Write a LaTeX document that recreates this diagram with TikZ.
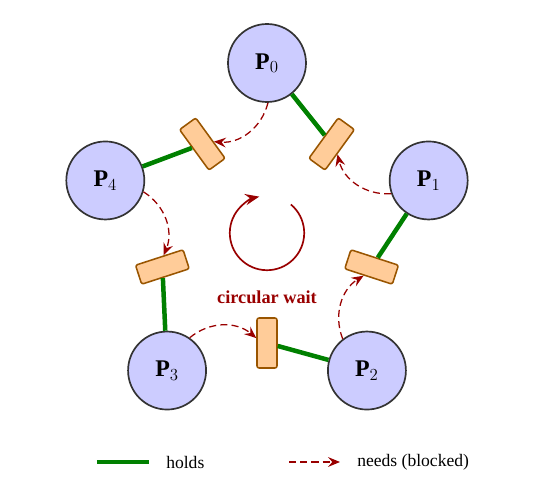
\documentclass[tikz,border=0pt]{standalone}
\usepackage{fontspec}
\setmainfont{Liberation Serif}
\usepackage{xcolor}
\definecolor{proc-fill}{HTML}{CCCCFF}
\definecolor{proc-line}{HTML}{333333}
\definecolor{res-fill}{HTML}{FFCC99}
\definecolor{res-line}{HTML}{995500}
\definecolor{hold-green}{HTML}{008000}
\definecolor{need-red}{HTML}{990000}
\usetikzlibrary{arrows.meta}

\begin{document}
\begin{tikzpicture}[
    process/.style={circle, draw=proc-line, fill=proc-fill, line width=1.2pt, minimum size=1.95cm, inner sep=0pt, font=\fontsize{17}{20}\selectfont},
    resource/.style={rectangle, rounded corners=1.5pt, draw=res-line, fill=res-fill, line width=1.1pt, minimum width=1.25cm, minimum height=0.5cm, inner sep=0pt},
    holds/.style={hold-green, line width=3.2pt},
    needs/.style={need-red, line width=0.9pt, dash pattern=on 5pt off 3pt, -{Stealth[length=8.5pt,width=7pt,inset=3pt]}},
]

    % Frame
    \useasboundingbox (-6.675, -6.5) rectangle (7.15, 5.825);

    % Processes
    \foreach \i in {0,...,4}
        \node[process] (p\i) at ({90-72*\i}:4.25) {\textbf{P}$_{\i}$};

    % Resources
    \foreach \i in {0,...,4}
        \node[resource, rotate={54-72*\i}] (r\i) at ({54-72*\i}:2.75) {};

    % Holds
    \foreach \i in {0,...,4}
        \draw[holds] (p\i) -- (r\i);

    % Needs
    \foreach \i/\j in {0/4, 1/0, 2/1, 3/2, 4/3}
        \draw[needs] (p\i) to[bend left=40] (r\j);

    % Circular wait
    \draw[need-red, line width=1.2pt, -{Stealth[length=10pt,width=8pt,inset=3.5pt]}] (50:0.93) arc (50:-258:0.93);
    \node[need-red, font=\fontsize{13}{15}\selectfont\bfseries] (wait) at (0, -1.6) {circular wait};

    % Legend
    \coordinate (hold-a) at (-4.25, -5.725);
    \coordinate (hold-b) at (-2.95, -5.725);
    \draw[holds] (hold-a) -- (hold-b);
    \node[anchor=west, font=\fontsize{12.5}{15}\selectfont, inner sep=0pt] (hold-text) at (-2.525, -5.725) {holds};
    \coordinate (need-a) at (0.55, -5.725);
    \coordinate (need-b) at (1.825, -5.725);
    \draw[needs] (need-a) -- (need-b);
    \node[anchor=west, font=\fontsize{12.5}{15}\selectfont, inner sep=0pt] (need-text) at (2.25, -5.725) {needs (blocked)};

\end{tikzpicture}
\end{document}
